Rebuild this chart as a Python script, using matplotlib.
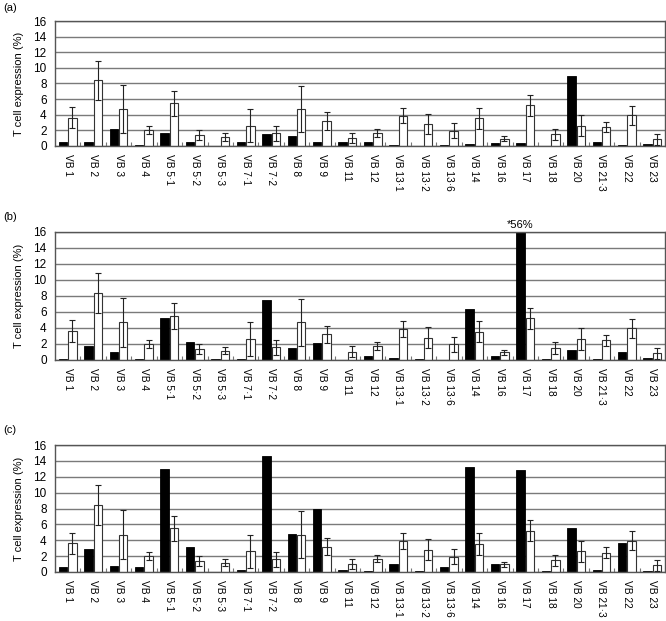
import matplotlib
matplotlib.use("Agg")
import matplotlib.pyplot as plt
import numpy as np

plt.rcParams['font.family'] = ['Liberation Sans', 'DejaVu Sans']

categories = ["VB 1", "VB 2", "VB 3", "VB 4", "VB 5·1", "VB 5·2", "VB 5·3", "VB 7·1",
              "VB 7·2", "VB 8", "VB 9", "VB 11", "VB 12", "VB 13·1", "VB 13·2", "VB 13·6",
              "VB 14", "VB 16", "VB 17", "VB 18", "VB 20", "VB 21·3", "VB 22", "VB 23"]

control_mean = [3.6, 8.4, 4.7, 2.0, 5.5, 1.4, 1.15, 2.6, 1.6, 4.7, 3.2,
                1.05, 1.7, 3.9, 2.8, 1.95, 3.55, 0.95, 5.2, 1.5, 2.6, 2.45, 3.95, 0.85]
control_sd = [1.35, 2.5, 3.1, 0.5, 1.6, 0.6, 0.45, 2.1, 0.95, 2.95, 1.1,
              0.65, 0.5, 1.0, 1.3, 0.95, 1.35, 0.35, 1.3, 0.7, 1.35, 0.67, 1.2, 0.68]

patient_a = [0.5, 0.5, 2.2, 0.15, 1.6, 0.5, 0.0, 0.5, 1.5, 1.3, 0.5,
             0.5, 0.45, 0.13, 0.0, 0.15, 0.3, 0.4, 0.43, 0.0, 8.9, 0.5, 0.15, 0.3]
patient_b = [0.15, 1.7, 1.05, 0.15, 5.3, 2.3, 0.1, 0.15, 7.5, 1.55, 2.1,
             0.05, 0.45, 0.3, 0.1, 0.05, 6.4, 0.5, 56.0, 0.15, 1.2, 0.1, 0.95, 0.25]
patient_c = [0.6, 2.9, 0.8, 0.65, 13.0, 3.2, 0.0, 0.3, 14.6, 4.8, 8.0,
             0.3, 0.15, 1.05, 0.15, 0.6, 13.2, 0.95, 12.8, 0.1, 5.6, 0.3, 3.7, 0.1]

panel_labels = ["(a)", "(b)", "(c)"]
yticks = [0, 2, 4, 6, 8, 10, 12, 14, 16]

fig = plt.figure(figsize=(6.66, 6.21), dpi=100)
W, H = 666, 621
# axes rectangles in pixels: (left, top, right, bottom)
rects = [(55, 21, 665, 146), (55, 232, 665, 360), (55, 445, 665, 572)]
label_y = [8, 217, 430]

x = np.arange(len(categories))
bw = 0.33
off = 0.185

for i, (pdata, rect) in enumerate(zip([patient_a, patient_b, patient_c], rects)):
    l, t, r, b = rect
    ax = fig.add_axes([l / W, 1 - b / H, (r - l) / W, (b - t) / H])
    ax.set_axisbelow(True)
    ax.yaxis.grid(True, color='#7a7a7a', linewidth=1.0)
    ax.bar(x - off, pdata, width=bw, color='black', edgecolor='black', linewidth=0.6, zorder=2)
    ax.bar(x + off, control_mean, width=bw, color='white', edgecolor='#333333',
           linewidth=0.8, zorder=2)
    ax.errorbar(x + off, control_mean, yerr=control_sd, fmt='none', ecolor='#222222',
                elinewidth=0.8, capsize=2.2, capthick=0.8, zorder=3)
    ax.set_xlim(-0.5, len(categories) - 0.5)
    ax.set_ylim(0, 16)
    ax.set_yticks(yticks)
    ax.set_yticklabels([str(v) for v in yticks], fontsize=8.5)
    ax.set_xticks(x)
    ax.set_xticklabels(categories, rotation=-90, fontsize=7.3, ha='center', va='top')
    ax.tick_params(axis='x', which='major', length=0, pad=6)
    ax.set_xticks(np.arange(0.5, len(categories) - 0.5, 1.0), minor=True)
    ax.tick_params(axis='x', which='minor', direction='in', length=3, width=0.8,
                   color='#777777')
    ax.tick_params(axis='y', length=0, pad=6)
    for s in ax.spines.values():
        s.set_color('#555555')
        s.set_linewidth(1.0)
    ax.set_ylabel("T cell expression (%)", fontsize=8, labelpad=7)
    fig.text(3 / W, 1 - label_y[i] / H, panel_labels[i], fontsize=8, ha='left', va='center')
    if i == 1:
        ax.text(18 - off, 16.3, "*56%", fontsize=8, ha='center', va='bottom')

fig.savefig("out.png", dpi=100)
